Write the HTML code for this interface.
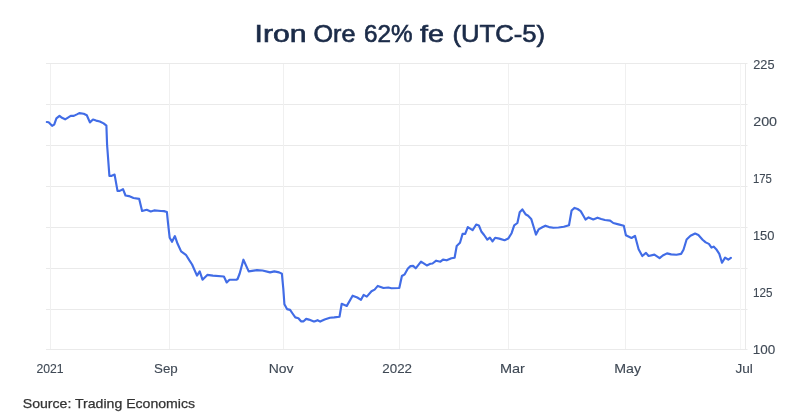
<!DOCTYPE html>
<html><head><meta charset="utf-8"><style>
html,body{margin:0;padding:0;background:#fff;}
body{width:800px;height:419px;overflow:hidden;position:relative;}
svg{position:absolute;left:0;top:0;filter:blur(0.35px);}
text{font-family:"Liberation Sans",sans-serif;}
</style></head><body>
<svg width="800" height="419" viewBox="0 0 800 419">
<rect width="800" height="419" fill="#fff"/>
<g font-size="24" fill="#1b2b48" stroke="#1b2b48" stroke-width="0.65" lengthAdjust="spacingAndGlyphs">
<text x="254.5" y="41.5" textLength="52" lengthAdjust="spacingAndGlyphs">Iron</text>
<text x="313.5" y="41.5" textLength="42" lengthAdjust="spacingAndGlyphs">Ore</text>
<text x="364" y="41.5" textLength="48.5" lengthAdjust="spacingAndGlyphs">62%</text>
<text x="420" y="41.5" textLength="24" lengthAdjust="spacingAndGlyphs">fe</text>
<text x="452.5" y="41.5" textLength="92.5" lengthAdjust="spacingAndGlyphs">(UTC-5)</text>
</g>
<g stroke="#eaeaea" stroke-width="1">
<line x1="46" y1="63.5" x2="747.5" y2="63.5"/>
<line x1="46" y1="104.5" x2="747.5" y2="104.5"/>
<line x1="46" y1="145.5" x2="747.5" y2="145.5"/>
<line x1="46" y1="186.5" x2="747.5" y2="186.5"/>
<line x1="46" y1="227.5" x2="747.5" y2="227.5"/>
<line x1="46" y1="268.5" x2="747.5" y2="268.5"/>
<line x1="46" y1="309.5" x2="747.5" y2="309.5"/>
<line x1="46" y1="349.5" x2="747.5" y2="349.5"/>
<line x1="50.5" y1="64" x2="50.5" y2="349" stroke="#f0f0f0"/>
<line x1="169.5" y1="64" x2="169.5" y2="349" stroke="#f0f0f0"/>
<line x1="283.5" y1="64" x2="283.5" y2="349" stroke="#f0f0f0"/>
<line x1="399.5" y1="64" x2="399.5" y2="349" stroke="#f0f0f0"/>
<line x1="508.5" y1="64" x2="508.5" y2="349" stroke="#f0f0f0"/>
<line x1="625.5" y1="64" x2="625.5" y2="349" stroke="#f0f0f0"/>
<line x1="740.5" y1="64" x2="740.5" y2="349" stroke="#f5f5f5"/>
<line x1="745.5" y1="63.5" x2="745.5" y2="349.5"/>
</g>
<g font-size="13" fill="#3f4955" stroke="#3f4955" stroke-width="0.12">
<text x="753.25" y="68.75" textLength="21.25" lengthAdjust="spacingAndGlyphs">225</text>
<text x="753.2" y="125.55" textLength="23.9" lengthAdjust="spacingAndGlyphs">200</text>
<text x="752.95" y="182.7" textLength="18.9" lengthAdjust="spacingAndGlyphs">175</text>
<text x="752.95" y="240.25" textLength="21.55" lengthAdjust="spacingAndGlyphs">150</text>
<text x="752.95" y="296.95" textLength="19.45" lengthAdjust="spacingAndGlyphs">125</text>
<text x="752.7" y="353.95" textLength="22.5" lengthAdjust="spacingAndGlyphs">100</text>
</g>
<g font-size="13" fill="#3f4955" stroke="#3f4955" stroke-width="0.12">
<text x="36.4" y="373.0" textLength="27.2" lengthAdjust="spacingAndGlyphs">2021</text>
<text x="154.0" y="372.85" textLength="23.7" lengthAdjust="spacingAndGlyphs">Sep</text>
<text x="268.8" y="372.6" textLength="24.8" lengthAdjust="spacingAndGlyphs">Nov</text>
<text x="382.3" y="372.85" textLength="29.7" lengthAdjust="spacingAndGlyphs">2022</text>
<text x="499.9" y="372.6" textLength="25.0" lengthAdjust="spacingAndGlyphs">Mar</text>
<text x="614.3" y="372.6" textLength="26.8" lengthAdjust="spacingAndGlyphs">May</text>
<text x="735.5" y="373.1" textLength="17.35" lengthAdjust="spacingAndGlyphs">Jul</text>
</g>
<path d="M46.8 122.0 L48.6 122.2 L52.1 125.8 L54.2 124.6 L56.4 118.4 L59.5 115.9 L62.0 117.8 L65.1 119.3 L67.6 117.8 L70.7 115.9 L73.8 115.9 L76.9 114.4 L79.3 113.1 L83.7 113.8 L86.8 115.3 L89.9 122.4 L93.0 119.5 L96.1 120.6 L99.8 121.5 L103.6 123.4 L106.4 125.7 L107.1 145.0 L109.4 175.8 L111.7 175.8 L114.6 174.6 L117.5 190.9 L119.7 190.9 L123.0 189.2 L125.5 195.5 L128.9 196.1 L133.5 198.0 L139.2 198.9 L142.1 211.0 L146.7 209.8 L150.7 211.5 L154.1 210.4 L161.0 211.0 L164.0 211.1 L166.9 212.0 L168.0 222.9 L169.7 237.8 L172.0 241.8 L174.9 236.1 L177.6 243.8 L181.1 251.4 L185.9 254.8 L189.4 260.4 L192.1 264.5 L197.0 275.6 L199.7 271.4 L202.5 279.7 L207.3 274.9 L212.9 275.6 L223.9 276.5 L226.7 282.5 L229.5 279.7 L236.4 279.7 L237.6 279.0 L239.7 273.5 L243.4 259.7 L248.7 271.4 L257.0 270.1 L262.5 270.5 L270.1 272.4 L274.3 271.4 L279.1 272.4 L281.9 273.8 L283.3 288.7 L284.4 304.2 L287.0 309.1 L290.1 309.9 L292.2 313.0 L295.3 317.4 L298.4 318.2 L301.0 321.3 L303.6 321.3 L306.2 318.9 L308.9 319.6 L313.2 321.3 L315.0 321.3 L317.6 320.2 L320.2 321.6 L324.6 319.6 L329.9 317.8 L334.2 317.4 L339.5 316.7 L341.7 303.8 L346.8 305.9 L352.6 295.7 L357.3 297.5 L361.0 299.8 L363.6 294.9 L366.8 296.6 L371.5 291.2 L374.6 289.6 L377.8 285.9 L383.5 288.0 L388.3 287.5 L391.4 288.2 L399.3 288.0 L401.9 276.0 L404.7 274.3 L407.9 268.5 L410.5 266.1 L413.1 265.9 L415.7 268.3 L421.0 261.7 L426.8 265.4 L430.4 263.8 L432.5 263.5 L436.2 260.7 L440.4 261.7 L443.0 259.6 L446.7 260.3 L451.4 258.2 L454.6 257.7 L456.7 246.0 L460.0 242.8 L462.6 233.9 L465.2 233.9 L467.8 227.1 L472.6 230.2 L476.2 224.5 L478.9 225.5 L481.5 231.8 L484.1 235.0 L487.3 239.7 L489.9 237.6 L492.5 241.3 L495.1 237.8 L499.3 238.6 L504.6 240.2 L508.2 238.6 L511.6 233.2 L514.2 225.3 L517.4 223.0 L519.7 212.2 L522.3 209.4 L525.5 214.2 L528.1 215.7 L531.2 218.9 L533.3 225.7 L536.0 234.6 L538.6 229.4 L542.3 227.3 L545.4 225.7 L549.1 227.1 L553.3 227.8 L558.5 227.5 L563.8 226.8 L569.0 225.2 L571.6 210.5 L574.6 207.9 L577.6 209.0 L580.7 211.1 L582.8 214.8 L585.5 219.5 L588.6 217.4 L593.3 219.5 L597.5 217.7 L601.2 219.0 L604.9 220.0 L610.1 220.6 L613.3 223.0 L618.5 224.4 L623.8 225.8 L625.9 235.3 L631.5 238.0 L635.0 235.8 L638.6 249.2 L642.3 256.0 L646.0 252.9 L648.6 256.0 L654.4 254.6 L659.6 258.1 L662.8 255.5 L667.0 253.4 L671.2 254.4 L676.4 254.7 L681.1 253.9 L683.5 249.7 L686.6 239.5 L690.5 235.8 L695.1 233.5 L698.4 235.0 L702.6 239.7 L705.7 242.4 L708.9 243.9 L711.5 247.6 L713.6 246.6 L716.2 249.2 L719.3 253.9 L722.0 262.8 L725.1 257.6 L728.3 259.7 L730.9 257.8" fill="none" stroke="#416ce6" stroke-width="2.15" stroke-linejoin="round" stroke-linecap="round"/>
<g font-size="13" fill="#333" stroke="#333" stroke-width="0.25">
<text x="22.8" y="407.8" textLength="172.25" lengthAdjust="spacingAndGlyphs">Source: Trading Economics</text>
</g>
</svg>
</body></html>
